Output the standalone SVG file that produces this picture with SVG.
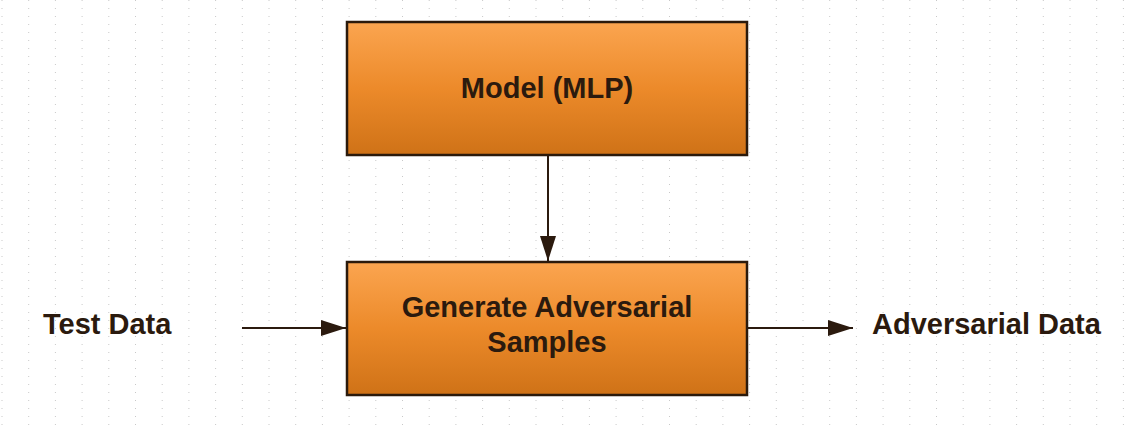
<svg xmlns="http://www.w3.org/2000/svg" width="1147" height="427" viewBox="0 0 1147 427">
<style>
.box{fill:url(#og);stroke:#2b1a0c;stroke-width:2.5}
.lbl{font-family:"Liberation Sans",Arial,sans-serif;font-weight:bold;font-size:29px;fill:#2b1a0e}
.conn{stroke:#2b1a0e;stroke-width:2;fill:none}
</style>
<defs>
<linearGradient id="og" x1="0" y1="0" x2="0" y2="1">
<stop offset="0" stop-color="#FBA550"/>
<stop offset="0.5" stop-color="#EC8A2A"/>
<stop offset="1" stop-color="#CF7217"/>
</linearGradient>
<pattern id="grid" x="1.5" y="0" width="26.7" height="8" patternUnits="userSpaceOnUse">
<rect x="0" y="0" width="1" height="1" fill="#c8c8c8"/>
</pattern>
<marker id="ah" viewBox="0 0 25 16" refX="25" refY="8" markerWidth="25" markerHeight="16" markerUnits="userSpaceOnUse" orient="auto">
<path d="M0,0 L25,8 L0,16 Z" fill="#2b1a0e"/>
</marker>
</defs>
<rect width="1147" height="427" fill="#ffffff"/>
<rect width="1147" height="427" fill="url(#grid)"/>
<g id="connectors">
<line class="conn" x1="548" y1="156" x2="548" y2="261" marker-end="url(#ah)"/>
<line class="conn" x1="242" y1="328" x2="346" y2="328" marker-end="url(#ah)"/>
<line class="conn" x1="748" y1="328" x2="853" y2="328" marker-end="url(#ah)"/>
</g>
<g id="model">
<rect class="box" x="347" y="22" width="400" height="133"/>
<text class="lbl" x="547" y="98" text-anchor="middle">Model (MLP)</text>
</g>
<g id="generate">
<rect class="box" x="347" y="262" width="400" height="133"/>
<text class="lbl" x="547" y="317" text-anchor="middle">Generate Adversarial</text>
<text class="lbl" x="547" y="352" text-anchor="middle">Samples</text>
</g>
<g id="test-data">
<text class="lbl" x="43" y="334">Test Data</text>
</g>
<g id="adversarial-data">
<text class="lbl" x="872" y="334">Adversarial Data</text>
</g>
</svg>
